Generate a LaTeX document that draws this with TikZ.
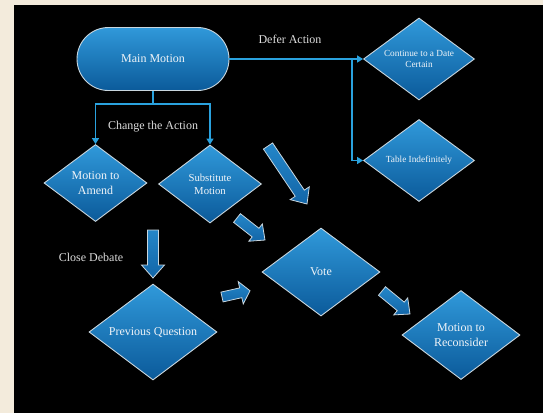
\documentclass[tikz,border=0pt]{standalone}
\usepackage{fontspec}
\setmainfont{Liberation Serif}
\usetikzlibrary{shapes.geometric,arrows.meta,calc}
\definecolor{beige}{HTML}{F3EBDC}
\definecolor{bluetop}{HTML}{3099DA}
\definecolor{bluebot}{HTML}{0B5A9A}
\definecolor{edgegray}{HTML}{C9D6DE}
\definecolor{linecol}{HTML}{2AA2DE}
\definecolor{txt}{HTML}{F0F4F8}
\definecolor{lbl}{HTML}{DCDCDC}
\definecolor{arrowtop}{HTML}{2486C8}
\definecolor{arrowbot}{HTML}{1366A8}
\tikzset{
  box/.style={draw=edgegray, line width=0.9pt, top color=bluetop, bottom color=bluebot,
    text=txt, align=center, inner sep=0pt, font=\fontsize{12}{14.5}\selectfont},
  dia/.style={box, diamond},
  conn/.style={draw=linecol, line width=1.9pt, -{Triangle[width=7pt,length=6pt]}},
  plainconn/.style={draw=linecol, line width=1.9pt},
  lab/.style={text=lbl, font=\fontsize{12}{14}\selectfont, inner sep=0pt},
  bigarrow/.style={draw=edgegray, line width=0.8pt, top color=arrowtop, bottom color=arrowbot, line join=miter},
}
% #1 tail, #2 tip, #3 shaft half width, #4 head half width, #5 head length
\newcommand\myblockarrow[5]{%
  \coordinate (hb) at ($(#2)!#5!(#1)$);
  \draw[bigarrow] ($(#1)!#3!90:(#2)$) -- ($(hb)!#3!-90:(#1)$) -- ($(hb)!#4!-90:(#1)$) -- (#2)
    -- ($(hb)!#4!90:(#1)$) -- ($(hb)!#3!90:(#1)$) -- ($(#1)!#3!-90:(#2)$) -- cycle;}
\begin{document}
\begin{tikzpicture}[x=1pt,y=-1pt]
\useasboundingbox (0,0) rectangle (543,413);
\fill[beige] (0,0) rectangle (543,413);
\fill[black] (14,5) rectangle (543,413);

% nodes
\node[box, minimum width=152pt, minimum height=63pt, rounded corners=31.5pt] (mm) at (153,59) {Main Motion};
\node[dia, aspect=1.35, minimum width=111pt, minimum height=82pt, font=\fontsize{9.3}{11}\selectfont] (cont) at (419,59) {Continue to a Date\\Certain};
\node[dia, aspect=1.35, minimum width=111pt, minimum height=82pt, font=\fontsize{9.3}{11}\selectfont] (tab) at (419,160.5) {Table Indefinitely};
\node[dia, aspect=1.34, minimum width=103pt, minimum height=77pt] (amend) at (95.5,183) {Motion to\\Amend};
\node[dia, aspect=1.32, minimum width=103pt, minimum height=78pt, font=\fontsize{10.7}{13}\selectfont] (sub) at (210,184) {Substitute\\Motion};
\node[dia, aspect=1.34, minimum width=118pt, minimum height=88pt] (vote) at (321,272) {Vote};
\node[dia, aspect=1.33, minimum width=128pt, minimum height=96pt] (pq) at (153,332) {Previous Question};
\node[dia, aspect=1.33, minimum width=118pt, minimum height=89pt] (rec) at (461,335) {Motion to\\Reconsider};

% labels
\node[lab] (defer) at (290,39.5) {Defer Action};
\node[lab] (chg) at (153,127) {Change the Action};
\node[lab] (close) at (91,257) {Close Debate};

% connectors
\draw[conn] (mm.east) -- (cont.west);
\coordinate (br) at (352,59);
\draw[conn] (br) |- (tab.west);
\coordinate (split) at (153,104);
\draw[plainconn] (mm.south) -- (split);
\draw[conn] (split) -| (amend.north);
\draw[conn] (split) -| (sub.north);

% block arrows
\coordinate (a1t) at (268,146); \coordinate (a1h) at (307,204);
\myblockarrow{a1t}{a1h}{5.5pt}{11.5pt}{13pt}
\coordinate (a2t) at (237,218); \coordinate (a2h) at (265,240);
\myblockarrow{a2t}{a2h}{5.5pt}{11pt}{12pt}
\coordinate (a3t) at (153,230); \coordinate (a3h) at (153,278);
\myblockarrow{a3t}{a3h}{5.5pt}{11.5pt}{13pt}
\coordinate (a4t) at (222,297); \coordinate (a4h) at (250,290.7);
\myblockarrow{a4t}{a4h}{5pt}{11.5pt}{9.5pt}
\coordinate (a5t) at (382,291); \coordinate (a5h) at (410,314);
\myblockarrow{a5t}{a5h}{5.5pt}{11pt}{12pt}
\end{tikzpicture}
\end{document}
